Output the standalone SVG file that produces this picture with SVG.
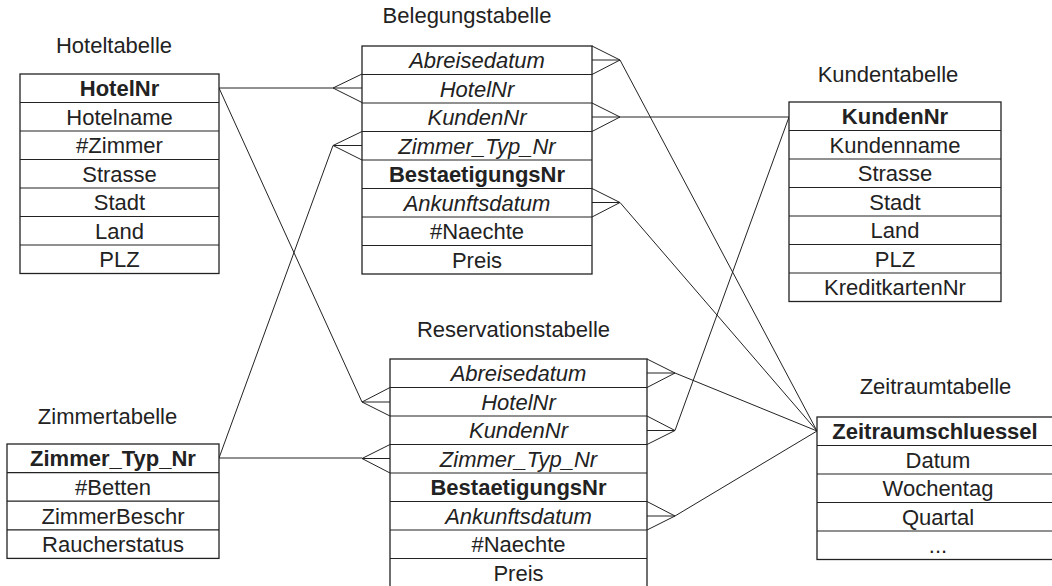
<svg xmlns="http://www.w3.org/2000/svg" width="1052" height="586" viewBox="0 0 1052 586">
<style>
.box{fill:#fff;stroke:#222;stroke-width:1.3}
.sep{stroke:#222;stroke-width:1.2}
.t{font-family:"Liberation Sans",Arial,sans-serif;font-size:22px;fill:#222;text-anchor:middle}
.b{font-weight:bold}
.i{font-style:italic}
.c{fill:none;stroke:#222;stroke-width:1}
</style>
<rect width="1052" height="586" fill="#fff"/>
<g id="connectors">
<path class="c" d="M219,88 H333 M333,88 L362,74 M333,88 H362 M333,88 L362,102.5"/>
<path class="c" d="M219,88 L362,402 M362,402 L390,387.5 M362,402 H390 M362,402 L390,416"/>
<path class="c" d="M219,458 L333,145.5 M333,145.5 L362,131.5 M333,145.5 H362 M333,145.5 L362,160"/>
<path class="c" d="M219,458 H362 M362,458.5 L390,444.5 M362,458.5 H390 M362,458.5 L390,473"/>
<path class="c" d="M592,46 L620,60 M592,60 H620 M592,74.5 L620,60 M620,60 L817,431"/>
<path class="c" d="M592,103 L620,117 M592,117 H620 M592,131.5 L620,117 M620,117 H789"/>
<path class="c" d="M592,188.5 L620,202.5 M592,202.5 H620 M592,217 L620,202.5 M620,202.5 L817,431"/>
<path class="c" d="M647,359 L675,373 M647,373 H675 M647,387.5 L675,373 M675,373 L817,431"/>
<path class="c" d="M647,416 L675,430.5 M647,430.5 H675 M647,444.5 L675,430.5 M675,430.5 L789,117"/>
<path class="c" d="M647,501.5 L675,516 M647,516 H675 M647,530 L675,516 M675,516 L817,431"/>
</g>
<g id="hoteltabelle">
<text class="t" x="114" y="53">Hoteltabelle</text>
<rect class="box" x="20" y="74" width="199" height="199.5"/>
<path class="sep" d="M20,102.5H219M20,131H219M20,159.5H219M20,188H219M20,216.5H219M20,245H219"/>
<text class="t b" x="119.5" y="96.3">HotelNr</text>
<text class="t" x="119.5" y="124.8">Hotelname</text>
<text class="t" x="119.5" y="153.3">#Zimmer</text>
<text class="t" x="119.5" y="181.8">Strasse</text>
<text class="t" x="119.5" y="210.3">Stadt</text>
<text class="t" x="119.5" y="238.8">Land</text>
<text class="t" x="119.5" y="267.3">PLZ</text>
</g>
<g id="belegungstabelle">
<text class="t" x="467" y="23">Belegungstabelle</text>
<rect class="box" x="362" y="46" width="230" height="228"/>
<path class="sep" d="M362,74.5H592M362,103H592M362,131.5H592M362,160H592M362,188.5H592M362,217H592M362,245.5H592"/>
<text class="t i" x="477" y="68.3">Abreisedatum</text>
<text class="t i" x="477" y="96.8">HotelNr</text>
<text class="t i" x="477" y="125.3">KundenNr</text>
<text class="t i" x="477" y="153.8">Zimmer_Typ_Nr</text>
<text class="t b" x="477" y="182.3">BestaetigungsNr</text>
<text class="t i" x="477" y="210.8">Ankunftsdatum</text>
<text class="t" x="477" y="239.3">#Naechte</text>
<text class="t" x="477" y="267.8">Preis</text>
</g>
<g id="kundentabelle">
<text class="t" x="888" y="82">Kundentabelle</text>
<rect class="box" x="789" y="102" width="212" height="199.5"/>
<path class="sep" d="M789,130.5H1001M789,159H1001M789,187.5H1001M789,216H1001M789,244.5H1001M789,273H1001"/>
<text class="t b" x="895" y="124.3">KundenNr</text>
<text class="t" x="895" y="152.8">Kundenname</text>
<text class="t" x="895" y="181.3">Strasse</text>
<text class="t" x="895" y="209.8">Stadt</text>
<text class="t" x="895" y="238.3">Land</text>
<text class="t" x="895" y="266.8">PLZ</text>
<text class="t" x="895" y="295.3">KreditkartenNr</text>
</g>
<g id="reservationstabelle">
<text class="t" x="513.5" y="337">Reservationstabelle</text>
<rect class="box" x="390" y="359" width="257" height="240"/>
<path class="sep" d="M390,387.5H647M390,416H647M390,444.5H647M390,473H647M390,501.5H647M390,530H647M390,558.5H647"/>
<text class="t i" x="518.5" y="381.3">Abreisedatum</text>
<text class="t i" x="518.5" y="409.8">HotelNr</text>
<text class="t i" x="518.5" y="438.3">KundenNr</text>
<text class="t i" x="518.5" y="466.8">Zimmer_Typ_Nr</text>
<text class="t b" x="518.5" y="495.3">BestaetigungsNr</text>
<text class="t i" x="518.5" y="523.8">Ankunftsdatum</text>
<text class="t" x="518.5" y="552.3">#Naechte</text>
<text class="t" x="518.5" y="580.8">Preis</text>
</g>
<g id="zimmertabelle">
<text class="t" x="107.5" y="424">Zimmertabelle</text>
<rect class="box" x="7" y="444" width="212" height="114.4"/>
<path class="sep" d="M7,472.6H219M7,501.2H219M7,529.8H219"/>
<text class="t b" x="113" y="466.3">Zimmer_Typ_Nr</text>
<text class="t" x="113" y="494.9">#Betten</text>
<text class="t" x="113" y="523.5">ZimmerBeschr</text>
<text class="t" x="113" y="552.1">Raucherstatus</text>
</g>
<g id="zeitraumtabelle">
<text class="t" x="935.5" y="394">Zeitraumtabelle</text>
<rect class="box" x="817" y="417" width="250" height="142.5"/>
<path class="sep" d="M817,445.5H1067M817,474H1067M817,502.5H1067M817,531H1067"/>
<text class="t b" x="935" y="439.3">Zeitraumschluessel</text>
<text class="t" x="938" y="467.8">Datum</text>
<text class="t" x="938" y="496.3">Wochentag</text>
<text class="t" x="938" y="524.8">Quartal</text>
<text class="t" x="938" y="553.3">...</text>
</g>
</svg>
